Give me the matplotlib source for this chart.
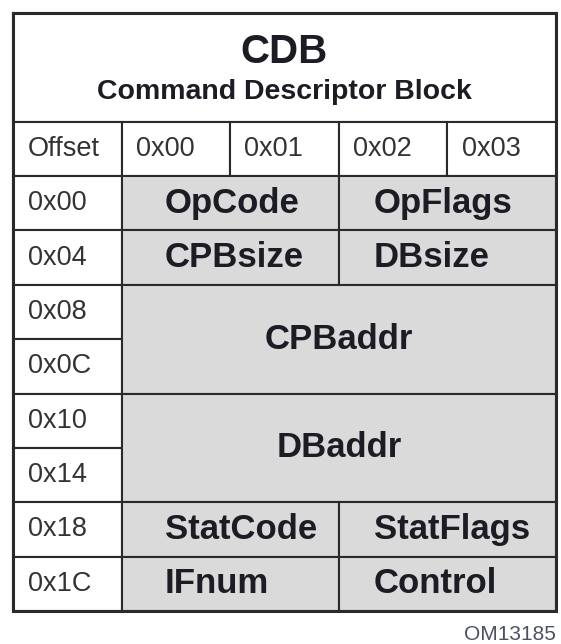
import matplotlib.pyplot as plt
from matplotlib.patches import Rectangle

plt.rcParams['font.family'] = ['Liberation Sans', 'DejaVu Sans']

# Table contents
title = "CDB"
subtitle = "Command Descriptor Block"
corner_label = "Offset"
byte_labels = ["0x00", "0x01", "0x02", "0x03"]
word_offsets = [0x00, 0x04, 0x08, 0x0C, 0x10, 0x14, 0x18, 0x1C]
field_names = ["OpCode", "OpFlags", "CPBsize", "DBsize", "CPBaddr",
               "DBaddr", "StatCode", "StatFlags", "IFnum", "Control"]
field_offsets = [0, 2, 4, 6, 8, 16, 24, 26, 28, 30]
field_sizes = [2, 2, 2, 2, 8, 8, 2, 2, 2, 2]
figure_id = "OM13185"

W, H = 561, 644
LINE = '#2a2a2a'
FILL = '#dadada'
TEXT = '#1c1c24'
LW = 1.5

fig = plt.figure(figsize=(W / 100, H / 100), dpi=100)
# table grid: 5 columns (offset + 4 bytes), 11 rows (2 title + 1 header + 8 words)
left, right, top, bottom = 13, 556, 13, 611
ax = fig.add_axes([left / W, 1 - bottom / H, (right - left) / W, (bottom - top) / H])
ncols = 1 + len(byte_labels)
nrows = 3 + len(word_offsets)
ax.set_xlim(0, ncols)
ax.set_ylim(nrows, 0)
ax.axis('off')


def cell(x, y, w, h, fc='white', lw=LW):
    ax.add_patch(Rectangle((x, y), w, h, facecolor=fc, edgecolor=LINE,
                           lw=lw, clip_on=False))


# Title block
cell(0, 0, ncols, 2)
ax.text(ncols / 2, 0.72, title, ha='center', va='center', fontsize=29,
        fontweight='bold', color=TEXT)
ax.text(ncols / 2, 1.45, subtitle, ha='center', va='center', fontsize=20.5,
        fontweight='bold', color=TEXT)

# Column header row
cell(0, 2, 1, 1)
ax.text(0.14, 2.5, corner_label, ha='left', va='center', fontsize=19.5,
        color='#333333')
for i, lab in enumerate(byte_labels):
    cell(1 + i, 2, 1, 1)
    ax.text(1 + i + 0.13, 2.5, lab, ha='left', va='center', fontsize=19.5,
            color='#333333')

# Offset column
for r, off in enumerate(word_offsets):
    cell(0, 3 + r, 1, 1)
    ax.text(0.14, 3 + r + 0.5, "0x%02X" % off, ha='left', va='center',
            fontsize=19.5, color='#333333')

# Fields
for name, off, size in zip(field_names, field_offsets, field_sizes):
    row = off // 4
    col = off % 4
    if size <= 4:
        w, h = size, 1
    else:
        w, h = 4, size // 4
    cell(1 + col, 3 + row, w, h, fc=FILL)
    if size < 4:
        # half-word fields sit left-aligned in their cell
        pad = 0.40 if col == 0 else 0.32
        ax.text(1 + col + pad, 3 + row + h / 2, name, ha='left', va='center',
                fontsize=25, fontweight='bold', color=TEXT)
    else:
        ax.text(1 + col + w / 2, 3 + row + h / 2, name, ha='center',
                va='center', fontsize=25, fontweight='bold', color=TEXT)

# Outer border
ax.add_patch(Rectangle((0, 0), ncols, nrows, facecolor='none', edgecolor=LINE,
                       lw=2.2, clip_on=False))

fig.text(556 / W, 1 - 635 / H, figure_id, ha='right', va='center',
         fontsize=15, color='#4a5262')

fig.savefig('out.png', dpi=100)
